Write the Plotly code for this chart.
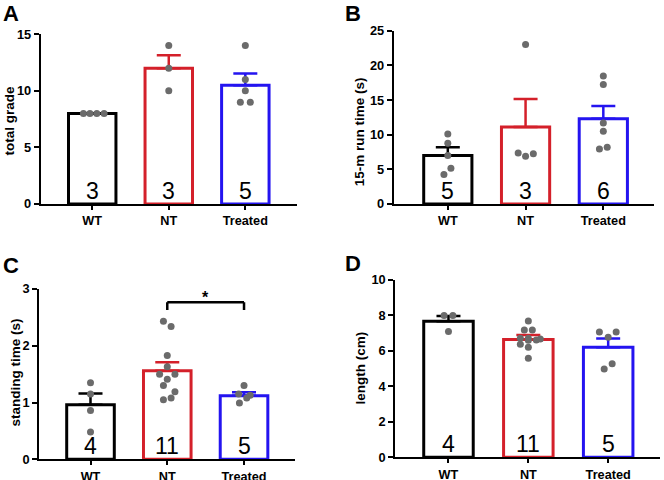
import plotly.graph_objects as go

groups = ["WT", "NT", "Treated"]
colors = ["#000000", "#d4202a", "#2414f0"]
dot_color = "#6b6b6b"
FONT = "Liberation Sans, Arial, sans-serif"

# A - total grade
a_mean = [8.0, 12.0, 10.5]
a_sem = [0.0, 1.15, 1.03]
a_n = [3, 3, 5]
a_wt = [8, 8, 8, 8]
a_nt = [14, 12, 10]
a_tr = [14, 11, 10, 9, 9]

# B - 15-m run time (s)
b_mean = [7.0, 11.1, 12.3]
b_sem = [1.2, 4.05, 1.85]
b_n = [5, 3, 6]
b_wt = [10.1, 8.75, 7.0, 5.15, 4.25]
b_nt = [23.0, 7.35, 6.9, 7.25]
b_tr = [18.45, 17.25, 11.7, 10.5, 8.2, 7.95]

# C - standing time (s)
c_mean = [0.96, 1.56, 1.12]
c_sem = [0.2, 0.15, 0.06]
c_n = [4, 11, 5]
c_wt = [1.35, 1.15, 0.86, 0.48]
c_nt = [2.43, 2.34, 1.83, 1.63, 1.5, 1.5, 1.41, 1.3, 1.19, 1.08, 1.05]
c_tr = [1.3, 1.15, 1.13, 1.08, 0.99]

# D - length (cm)
d_mean = [7.67, 6.65, 6.2]
d_sem = [0.3, 0.25, 0.5]
d_n = [4, 11, 5]
d_wt = [8.0, 8.0, 7.1]
d_nt = [7.69, 7.18, 7.18, 6.71, 6.71, 6.62, 6.67, 6.37, 6.2, 5.58, 6.6]
d_tr = [7.07, 7.07, 6.77, 5.28, 4.98]

# horizontal scatter of the dots (category units)
a_dx = [[-0.115, -0.03, 0.06, 0.155], [0, 0, 0], [0, 0, 0, -0.065, 0.065]]
b_dx = [[0, 0, 0, 0.04, -0.05], [0, -0.095, 0, 0.1], [0, 0, 0, 0, 0.05, -0.05]]
c_dx = [[0, 0, 0, 0], [-0.05, 0.05, 0, 0, -0.1, 0.1, 0, -0.05, 0.1, 0.05, -0.05],
        [0, -0.07, 0.08, 0.035, -0.06]]
d_dx = [[-0.055, 0.055, 0], [0, -0.05, 0.05, -0.1, 0, 0.1, 0.15, -0.1, 0, 0, 0],
        [-0.11, 0.1, 0, 0.05, -0.05]]

W, H = 664, 480
def px(x): return x / W
def py(y): return 1 - y / H

fig = go.Figure()

panels = [
    # letter, ytitle, means, sems, ns, dots, dx, xdom(px), ydom(px), xrange, yrange, dtick, title pos
    ("A", "total grade", a_mean, a_sem, a_n, [a_wt, a_nt, a_tr], a_dx,
     (40.7, 297), (204, 34.3), [-0.673, 2.675], [0, 15], 5, (8.5, 121)),
    ("B", "15-m run time (s)", b_mean, b_sem, b_n, [b_wt, b_nt, b_tr], b_dx,
     (393.7, 653.7), (204, 30.7), [-0.696, 2.648], [0, 25], 5, (359.5, 131.7)),
    ("C", "standing time (s)", c_mean, c_sem, c_n, [c_wt, c_nt, c_tr], c_dx,
     (39.3, 295), (459.3, 289), [-0.667, 2.664], [0, 3], 1, (14.5, 373)),
    ("D", "length (cm)", d_mean, d_sem, d_n, [d_wt, d_nt, d_tr], d_dx,
     (395.3, 660), (457.3, 280), [-0.666, 2.649], [0, 10], 2, (360, 368.5)),
]
letter_pos = [(1, -1), (343, -1), (1, 251), (343, 249)]

for k, (let, ytitle, means, sems, ns, dots, dxs, xd, yd, xr, yr, dt, tpos) in enumerate(panels, start=1):
    xa = "x" if k == 1 else f"x{k}"
    ya = "y" if k == 1 else f"y{k}"
    for i in range(3):
        fig.add_trace(go.Bar(
            x=[i], y=[means[i]], xaxis=xa, yaxis=ya, width=0.62,
            marker=dict(color="white", line=dict(color=colors[i], width=3)),
            error_y=dict(type="data", array=[sems[i]], arrayminus=[0], symmetric=False,
                         color=colors[i], thickness=2.5, width=12, visible=sems[i] > 0),
            hoverinfo="skip"))
    for i in range(3):
        fig.add_trace(go.Scatter(
            x=[i + d for d in dxs[i]], y=dots[i], xaxis=xa, yaxis=ya, mode="markers",
            marker=dict(color=dot_color, size=7), hoverinfo="skip"))
        fig.add_annotation(x=i, y=0, xref=xa, yref=ya, text=str(ns[i]), showarrow=False,
                           yanchor="bottom", yshift=-2,
                           font=dict(family=FONT, size=23, color="black"))
    axn = "" if k == 1 else str(k)
    fig.layout["xaxis" + axn] = dict(
        domain=[px(xd[0]), px(xd[1])], anchor=ya, range=xr, automargin=False,
        tickvals=[0, 1, 2], ticktext=groups, showline=True, linewidth=2, linecolor="black",
        ticks="outside", ticklen=4, tickwidth=2, tickcolor="black", showgrid=False,
        zeroline=False, fixedrange=True,
        tickfont=dict(family=FONT, size=12.7, color="black", weight="bold"))
    fig.layout["yaxis" + axn] = dict(
        domain=[py(yd[0]), py(yd[1])], anchor=xa, range=yr, dtick=dt, automargin=False,
        showline=True, linewidth=2, linecolor="black", ticks="outside", ticklen=5,
        tickwidth=2, tickcolor="black", showgrid=False, zeroline=False,
        tickfont=dict(family=FONT, size=12.8, color="black", weight="bold"))
    fig.add_annotation(x=px(tpos[0]), y=py(tpos[1]), xref="paper", yref="paper",
                       text=ytitle, textangle=-90, showarrow=False,
                       xanchor="center", yanchor="middle",
                       font=dict(family=FONT, size=13.5, color="black", weight="bold"))
    lx, ly = letter_pos[k - 1]
    fig.add_annotation(x=px(lx), y=py(ly), xref="paper", yref="paper", text=let,
                       showarrow=False, xanchor="left", yanchor="top",
                       font=dict(family=FONT, size=22, color="black", weight="bold"))

# significance bracket NT vs Treated in C
fig.add_shape(type="line", xref="x3", yref="y3", x0=1, x1=1, y0=2.63, y1=2.765,
              line=dict(color="black", width=2.5))
fig.add_shape(type="line", xref="x3", yref="y3", x0=1, x1=2, y0=2.765, y1=2.765,
              line=dict(color="black", width=2.5))
fig.add_shape(type="line", xref="x3", yref="y3", x0=2, x1=2, y0=2.63, y1=2.765,
              line=dict(color="black", width=2.5))
fig.add_annotation(x=1.5, y=2.765, xref="x3", yref="y3", text="*", showarrow=False,
                   yanchor="bottom", yshift=-6,
                   font=dict(family=FONT, size=16, color="black", weight="bold"))

fig.update_layout(width=W, height=H, margin=dict(l=0, r=0, t=0, b=0, autoexpand=False),
                  paper_bgcolor="white", plot_bgcolor="white", showlegend=False,
                  barmode="overlay")
fig.write_html("out.html", config={"displayModeBar": False},
               post_script="document.body.style.margin='0';document.body.style.overflow='hidden';")
